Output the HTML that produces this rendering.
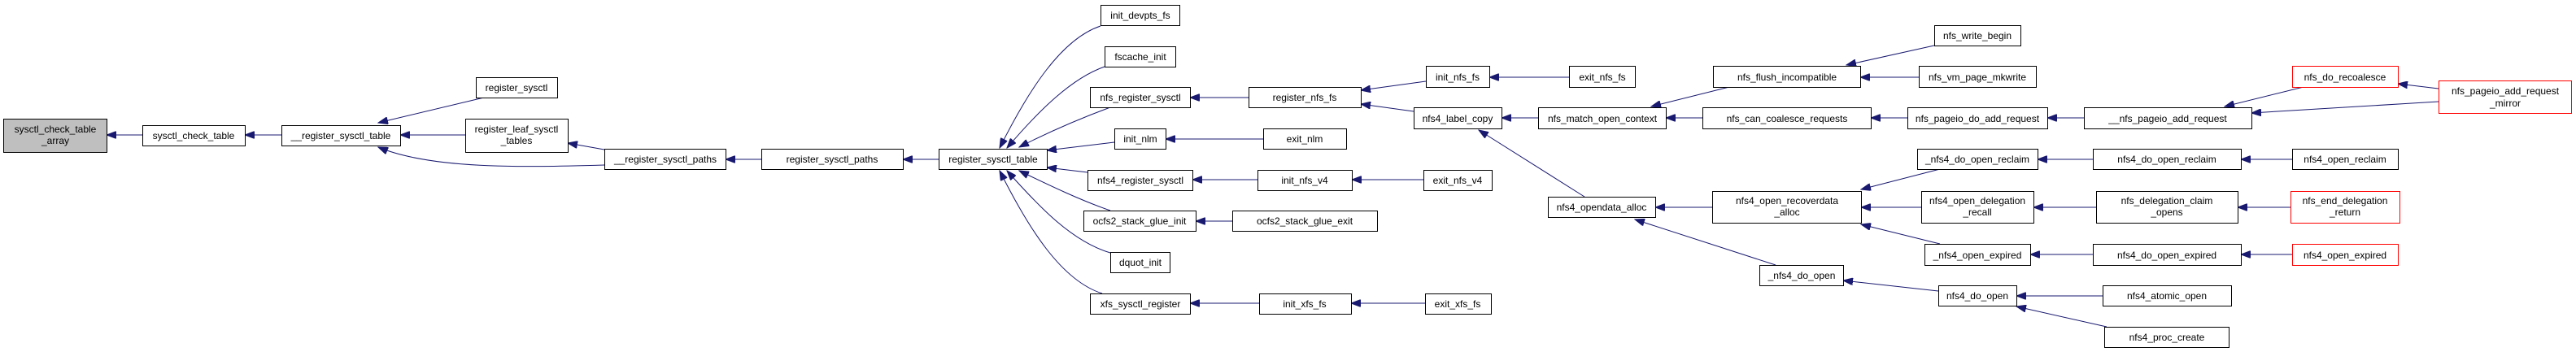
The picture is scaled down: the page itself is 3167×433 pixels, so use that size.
<!DOCTYPE html>
<html><head><meta charset="utf-8"><style>
html,body{margin:0;padding:0;background:#fff;}
svg{display:block;}
text{font-family:"Liberation Sans",Arial,sans-serif;font-size:12px;fill:#000;text-anchor:middle;}
.n{fill:#fff;stroke:#000;stroke-width:1;}
.g{fill:#bfbfbf;stroke:#000;stroke-width:1;}
.r{fill:#fff;stroke:#ff0000;stroke-width:1;}
.e{fill:none;stroke:#191970;stroke-width:1;marker-end:url(#a);}
</style></head><body>
<svg width="3167" height="433" viewBox="0 0 3167 433" xmlns="http://www.w3.org/2000/svg">
<defs><marker id="a" markerWidth="13" markerHeight="9" refX="12" refY="4.5" orient="auto" markerUnits="userSpaceOnUse"><path d="M0,0 L12,4.5 L0,9 Z" fill="#191970" stroke="#191970"/></marker></defs>

<!-- edges -->
<path class="e" d="M175,166 L131,166"/>
<path class="e" d="M346,166 L301,166"/>
<path class="e" d="M595,120 L465,151"/>
<path class="e" d="M572,166 L492,166"/>
<path class="e" d="M743,203 C640,206 530,208 465,181"/>
<path class="e" d="M743,184 L698,176"/>
<path class="e" d="M936,196 L892,196"/>
<path class="e" d="M1154,196 L1110,196"/>
<path class="e" d="M1353,32 C1305,48 1265,110 1229,182"/>
<path class="e" d="M1358,82 C1318,96 1278,135 1238,182"/>
<path class="e" d="M1365,132 C1330,145 1290,162 1253,181"/>
<path class="e" d="M1370,175 L1287,185"/>
<path class="e" d="M1337,212 L1287,206"/>
<path class="e" d="M1365,259 C1330,247 1290,228 1253,210"/>
<path class="e" d="M1365,311 C1318,297 1278,255 1238,210"/>
<path class="e" d="M1355,361 C1305,345 1265,282 1229,210"/>
<path class="e" d="M1535,120 L1463,120"/>
<path class="e" d="M1553,171 L1433,171"/>
<path class="e" d="M1546,221 L1466,221"/>
<path class="e" d="M1515,272 L1470,272"/>
<path class="e" d="M1548,373 L1463,373"/>
<path class="e" d="M1753,100 L1673,111"/>
<path class="e" d="M1738,137 L1673,128"/>
<path class="e" d="M1929,95 L1831,95"/>
<path class="e" d="M1750,221 L1662,221"/>
<path class="e" d="M1752,373 L1661,373"/>
<path class="e" d="M1891,145 L1846,145"/>
<path class="e" d="M1948,242 L1818,160"/>
<path class="e" d="M2126,107 L2030,131"/>
<path class="e" d="M2093,145 L2048,145"/>
<path class="e" d="M2105,255 L2035,255"/>
<path class="e" d="M2183,326 L2010,270"/>
<path class="e" d="M2378,56 L2270,80"/>
<path class="e" d="M2359,95 L2287,95"/>
<path class="e" d="M2345,145 L2300,145"/>
<path class="e" d="M2385,208 L2288,233"/>
<path class="e" d="M2362,255 L2288,255"/>
<path class="e" d="M2385,300 L2288,276"/>
<path class="e" d="M2383,358 L2266,345"/>
<path class="e" d="M2562,145 L2517,145"/>
<path class="e" d="M2573,196 L2505,196"/>
<path class="e" d="M2577,255 L2500,255"/>
<path class="e" d="M2573,313 L2496,313"/>
<path class="e" d="M2585,364 L2479,364"/>
<path class="e" d="M2590,402 L2479,377"/>
<path class="e" d="M2832,107 L2735,131"/>
<path class="e" d="M2998,125 L2768,139"/>
<path class="e" d="M2998,109 L2948,103"/>
<path class="e" d="M2818,196 L2755,196"/>
<path class="e" d="M2816,255 L2751,255"/>
<path class="e" d="M2818,313 L2755,313"/>

<!-- nodes -->
<rect class="g" x="4.5" y="146.5" width="127" height="41"/><text x="68" y="163">sysctl_check_table</text><text x="68" y="177">_array</text>
<rect class="n" x="175.5" y="154.5" width="126" height="25"/><text x="238" y="171">sysctl_check_table</text>
<rect class="n" x="346.5" y="154.5" width="146" height="25"/><text x="419" y="171">__register_sysctl_table</text>
<rect class="n" x="585.5" y="95.5" width="100" height="25"/><text x="635" y="112">register_sysctl</text>
<rect class="n" x="572.5" y="146.5" width="126" height="41"/><text x="635" y="163">register_leaf_sysctl</text><text x="635" y="177">_tables</text>
<rect class="n" x="743.5" y="183.5" width="149" height="25"/><text x="818" y="200">__register_sysctl_paths</text>
<rect class="n" x="936.5" y="183.5" width="174" height="25"/><text x="1023" y="200">register_sysctl_paths</text>
<rect class="n" x="1154.5" y="183.5" width="133" height="25"/><text x="1221" y="200">register_sysctl_table</text>
<rect class="n" x="1353.5" y="6.5" width="97" height="25"/><text x="1402" y="23">init_devpts_fs</text>
<rect class="n" x="1358.5" y="57.5" width="87" height="25"/><text x="1402" y="74">fscache_init</text>
<rect class="n" x="1340.5" y="107.5" width="123" height="25"/><text x="1402" y="124">nfs_register_sysctl</text>
<rect class="n" x="1370.5" y="158.5" width="63" height="25"/><text x="1402" y="175">init_nlm</text>
<rect class="n" x="1337.5" y="209.5" width="129" height="25"/><text x="1402" y="226">nfs4_register_sysctl</text>
<rect class="n" x="1332.5" y="259.5" width="138" height="25"/><text x="1401" y="276">ocfs2_stack_glue_init</text>
<rect class="n" x="1365.5" y="310.5" width="73" height="25"/><text x="1402" y="327">dquot_init</text>
<rect class="n" x="1340.5" y="361.5" width="123" height="25"/><text x="1402" y="378">xfs_sysctl_register</text>
<rect class="n" x="1535.5" y="107.5" width="138" height="25"/><text x="1604" y="124">register_nfs_fs</text>
<rect class="n" x="1553.5" y="158.5" width="102" height="25"/><text x="1604" y="175">exit_nlm</text>
<rect class="n" x="1546.5" y="209.5" width="116" height="25"/><text x="1604" y="226">init_nfs_v4</text>
<rect class="n" x="1515.5" y="259.5" width="178" height="25"/><text x="1604" y="276">ocfs2_stack_glue_exit</text>
<rect class="n" x="1548.5" y="361.5" width="113" height="25"/><text x="1604" y="378">init_xfs_fs</text>
<rect class="n" x="1753.5" y="81.5" width="78" height="26"/><text x="1792" y="99">init_nfs_fs</text>
<rect class="n" x="1738.5" y="132.5" width="108" height="26"/><text x="1792" y="150">nfs4_label_copy</text>
<rect class="n" x="1750.5" y="209.5" width="84" height="25"/><text x="1792" y="226">exit_nfs_v4</text>
<rect class="n" x="1752.5" y="361.5" width="81" height="25"/><text x="1792" y="378">exit_xfs_fs</text>
<rect class="n" x="1929.5" y="81.5" width="81" height="26"/><text x="1970" y="99">exit_nfs_fs</text>
<rect class="n" x="1891.5" y="132.5" width="157" height="26"/><text x="1970" y="150">nfs_match_open_context</text>
<rect class="n" x="1903.5" y="242.5" width="132" height="25"/><text x="1969" y="259">nfs4_opendata_alloc</text>
<rect class="n" x="2106.5" y="81.5" width="181" height="26"/><text x="2197" y="99">nfs_flush_incompatible</text>
<rect class="n" x="2093.5" y="132.5" width="207" height="26"/><text x="2197" y="150">nfs_can_coalesce_requests</text>
<rect class="n" x="2105.5" y="235.5" width="183" height="39"/><text x="2197" y="251">nfs4_open_recoverdata</text><text x="2197" y="265">_alloc</text>
<rect class="n" x="2163.5" y="326.5" width="103" height="25"/><text x="2215" y="343">_nfs4_do_open</text>
<rect class="n" x="2378.5" y="31.5" width="106" height="25"/><text x="2431" y="48">nfs_write_begin</text>
<rect class="n" x="2359.5" y="81.5" width="144" height="26"/><text x="2431" y="99">nfs_vm_page_mkwrite</text>
<rect class="n" x="2345.5" y="132.5" width="172" height="26"/><text x="2431" y="150">nfs_pageio_do_add_request</text>
<rect class="n" x="2357.5" y="183.5" width="148" height="25"/><text x="2431" y="200">_nfs4_do_open_reclaim</text>
<rect class="n" x="2362.5" y="235.5" width="138" height="39"/><text x="2431" y="251">nfs4_open_delegation</text><text x="2431" y="265">_recall</text>
<rect class="n" x="2366.5" y="300.5" width="130" height="26"/><text x="2431" y="318">_nfs4_open_expired</text>
<rect class="n" x="2383.5" y="351.5" width="96" height="25"/><text x="2431" y="368">nfs4_do_open</text>
<rect class="n" x="2562.5" y="132.5" width="206" height="26"/><text x="2665" y="150">__nfs_pageio_add_request</text>
<rect class="n" x="2573.5" y="183.5" width="182" height="25"/><text x="2664" y="200">nfs4_do_open_reclaim</text>
<rect class="n" x="2577.5" y="235.5" width="174" height="39"/><text x="2664" y="251">nfs_delegation_claim</text><text x="2664" y="265">_opens</text>
<rect class="n" x="2573.5" y="300.5" width="182" height="26"/><text x="2664" y="318">nfs4_do_open_expired</text>
<rect class="n" x="2585.5" y="351.5" width="158" height="25"/><text x="2664" y="368">nfs4_atomic_open</text>
<rect class="n" x="2587.5" y="402.5" width="153" height="25"/><text x="2664" y="419">nfs4_proc_create</text>
<rect class="r" x="2818.5" y="81.5" width="130" height="26"/><text x="2883" y="99">nfs_do_recoalesce</text>
<rect class="r" x="2998.5" y="99.5" width="163" height="40"/><text x="3080" y="116">nfs_pageio_add_request</text><text x="3080" y="131">_mirror</text>
<rect class="n" x="2818.5" y="183.5" width="130" height="25"/><text x="2883" y="200">nfs4_open_reclaim</text>
<rect class="r" x="2816.5" y="235.5" width="134" height="39"/><text x="2883" y="251">nfs_end_delegation</text><text x="2883" y="265">_return</text>
<rect class="r" x="2818.5" y="300.5" width="130" height="26"/><text x="2883" y="318">nfs4_open_expired</text>
</svg>
</body></html>
